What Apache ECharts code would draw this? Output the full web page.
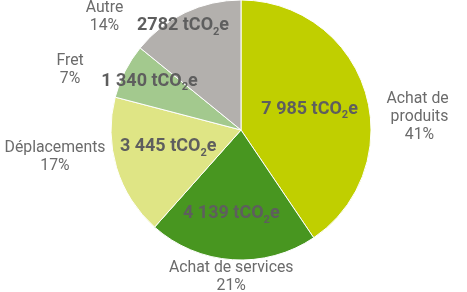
<!DOCTYPE html>
<html>
<head>
<meta charset="utf-8">
<script src="https://cdn.jsdelivr.net/npm/echarts@6/dist/echarts.min.js"></script>
<style>html,body{margin:0;padding:0;background:#fff}#c{width:467px;height:292px}</style>
</head>
<body>
<div id="c"></div>
<script>
// Data
const categories = ['Achat de produits', 'Achat de services', 'Déplacements', 'Fret', 'Autre'];
const values = [7985, 4139, 3445, 1340, 2782];
const valueLabels = ['7 985', '4 139', '3 445', '1 340', '2782'];
const colors = ['#c0cf00', '#489620', '#dfe585', '#a3c98e', '#b3b0ad'];

// Label placement (relative to slice mid-angle: angle shift in degrees, radius factor)
const outerShift = [12.7, 0, 8.5, -7.7, -25];
const outerRadius = [1.377, 1.131, 1.446, 1.392, 1.362];
const innerShift = [0, 2.8, 3.8, 1.2, -3.7];
const innerRadius = [0.552, 0.645, 0.575, 0.798, 0.916];

const CX = 241, CY = 130, R = 130;
const total = values.reduce((a, b) => a + b, 0);
const midAngles = [];
(function () {
  let acc = 0;
  values.forEach(v => { midAngles.push((acc + v / 2) / total * 360); acc += v; });
})();
function polar(i, shift, rf) {
  const a = (midAngles[i] + shift[i]) * Math.PI / 180;
  const d = R * rf[i];
  return { x: CX + d * Math.sin(a), y: CY - d * Math.cos(a) };
}

const chart = echarts.init(document.getElementById('c'), null, { renderer: 'canvas' });
const baseData = categories.map((n, i) => ({ name: n, value: values[i] }));

chart.setOption({
  animation: false,
  backgroundColor: '#fff',
  series: [
    {
      type: 'pie',
      center: [CX, CY],
      radius: R,
      startAngle: 90,
      clockwise: true,
      percentPrecision: 0,
      avoidLabelOverlap: false,
      silent: true,
      data: baseData.map((d, i) => ({
        name: d.name,
        value: d.value,
        itemStyle: { color: colors[i] },
        label: i === 0 ? { width: 74, overflow: 'break' } : {}
      })),
      itemStyle: { borderColor: '#ffffff', borderWidth: 1 },
      label: {
        show: true,
        position: 'outside',
        formatter: '{b}\n{d}%',
        fontFamily: 'Roboto',
        fontSize: 15.8,
        lineHeight: 18,
        color: '#6b6b6b',
        align: 'center'
      },
      labelLine: { show: false },
      labelLayout: function (p) {
        const pt = polar(p.dataIndex, outerShift, outerRadius);
        return { x: pt.x, y: pt.y, align: 'center', verticalAlign: 'middle' };
      }
    },
    {
      type: 'pie',
      center: [CX, CY],
      radius: R,
      startAngle: 90,
      clockwise: true,
      avoidLabelOverlap: false,
      silent: true,
      data: baseData,
      itemStyle: { color: 'rgba(0,0,0,0)', borderWidth: 0 },
      label: {
        show: true,
        position: 'inside',
        formatter: p => '{v|' + valueLabels[p.dataIndex] + ' tCO}{s|2}{v|e}',
        rich: {
          v: { fontFamily: 'Roboto', fontSize: 18, fontWeight: 'bold', color: '#5e5e5e', lineHeight: 22 },
          s: { fontFamily: 'Roboto', fontSize: 11, fontWeight: 'bold', color: '#5e5e5e', lineHeight: 11, padding: [13, 0, 0, 0] }
        }
      },
      labelLine: { show: false },
      labelLayout: function (p) {
        const pt = polar(p.dataIndex, innerShift, innerRadius);
        return { x: pt.x, y: pt.y, align: 'center', verticalAlign: 'middle' };
      }
    }
  ]
});
</script>
</body>
</html>
